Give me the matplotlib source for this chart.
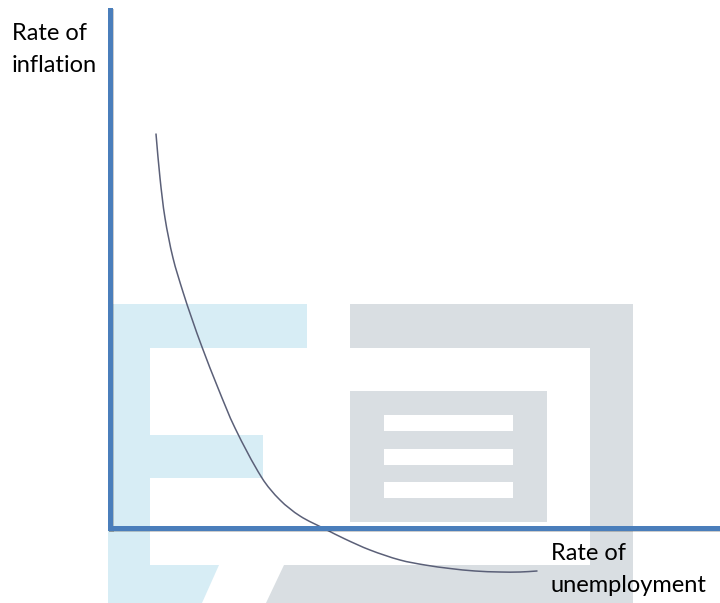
import math
import matplotlib
matplotlib.use("Agg")
import matplotlib.pyplot as plt
from matplotlib.patches import Polygon, Rectangle, PathPatch
from matplotlib.path import Path
import matplotlib.patheffects as pe

# Phillips curve (arbitrary units: origin at the axes corner)
unemployment = [4.6, 5.0, 5.5, 6.3, 7.3, 8.2, 9.2, 10.8, 12.5, 15.2, 17.0, 19.0,
                21.5, 23.5, 26.0, 29.0, 31.5, 34.0, 36.5, 39.0, 41.0, 42.7]
inflation = [39.4, 35.0, 31.0, 27.0, 23.6, 20.9, 18.1, 14.0, 10.0, 5.0, 2.8, 1.2,
             -0.1, -1.1, -2.2, -3.2, -3.7, -4.05, -4.3, -4.4, -4.4, -4.3]

y_label = ["Rate of", "inflation"]
x_label = ["Rate of", "unemployment"]

W, H = 720, 603
fig = plt.figure(figsize=(W / 100, H / 100), dpi=100)
fig.patch.set_facecolor("white")

# background watermark (pixel coordinates)
bg = fig.add_axes([0, 0, 1, 1], zorder=0)
bg.set_xlim(0, W)
bg.set_ylim(H, 0)
bg.axis("off")
blue_wm = "#d7edf5"
gray_wm = "#d9dee2"
for (x0, y0, x1, y1) in [(108, 304, 150, 566), (108, 304, 307, 348), (108, 435, 263, 478)]:
    bg.add_patch(Rectangle((x0, y0), x1 - x0, y1 - y0, color=blue_wm, lw=0))
bg.add_patch(Polygon([(108, 565), (219, 565), (202, 603), (108, 603)], color=blue_wm, lw=0))
for (x0, y0, x1, y1) in [(350, 304, 633, 348), (590, 304, 633, 603), (350, 391, 547, 522)]:
    bg.add_patch(Rectangle((x0, y0), x1 - x0, y1 - y0, color=gray_wm, lw=0))
bg.add_patch(Polygon([(284, 565), (633, 565), (633, 603), (266, 603)], color=gray_wm, lw=0))
for (y0, y1) in [(415, 431), (449, 465), (482, 498)]:
    bg.add_patch(Rectangle((384, y0), 513 - 384, y1 - y0, color="white", lw=0))

# main axes: origin at pixel (110, 528), top at y=10, extending to the right edge
ox, oy, top = 110, 528, 10
ax = fig.add_axes([ox / W, (H - oy) / H, (W - ox) / W, (oy - top) / H], zorder=1)
ax.patch.set_alpha(0)
ax.set_xlim(0, (W - ox) / 10)
ax.set_ylim(0, (oy - top) / 10)
for s in ["top", "right"]:
    ax.spines[s].set_visible(False)
for s in ["left", "bottom"]:
    ax.spines[s].set_color("#4a7ebb")
    ax.spines[s].set_linewidth(3.6)
    ax.spines[s].set_capstyle("projecting")
    ax.spines[s].set_path_effects([pe.SimpleLineShadow(offset=(1.0, -1.0), alpha=0.2), pe.Normal()])
ax.set_xticks([])
ax.set_yticks([])

# smooth rendering of the read points (geometric tangents -> cubic Bezier path)
pts = list(zip(unemployment, inflation))
n = len(pts)


def tangent(i):
    a = pts[max(i - 1, 0)]
    b = pts[min(i + 1, n - 1)]
    dx, dy = b[0] - a[0], b[1] - a[1]
    L = math.hypot(dx, dy)
    return dx / L, dy / L


verts = [pts[0]]
codes = [Path.MOVETO]
for i in range(n - 1):
    p1, p2 = pts[i], pts[i + 1]
    d = math.hypot(p2[0] - p1[0], p2[1] - p1[1]) / 3
    t1, t2 = tangent(i), tangent(i + 1)
    c1 = (p1[0] + t1[0] * d, p1[1] + t1[1] * d)
    c2 = (p2[0] - t2[0] * d, p2[1] - t2[1] * d)
    verts += [c1, c2, p2]
    codes += [Path.CURVE4, Path.CURVE4, Path.CURVE4]
curve = PathPatch(Path(verts, codes), facecolor="none", edgecolor="#5b6078", lw=1.1,
                  clip_on=False, capstyle="round")
ax.add_patch(curve)

font = ["Lato", "DejaVu Sans"]
fs = 17
fig.text(12 / W, 1 - 40 / H, y_label[0], family=font, fontsize=fs, va="baseline", ha="left", color="black")
fig.text(12 / W, 1 - 72 / H, y_label[1], family=font, fontsize=fs, va="baseline", ha="left", color="black")
fig.text(551 / W, 1 - 560 / H, x_label[0], family=font, fontsize=fs, va="baseline", ha="left", color="black")
fig.text(551 / W, 1 - 592 / H, x_label[1], family=font, fontsize=fs, va="baseline", ha="left", color="black")

fig.savefig("out.png", dpi=100)
